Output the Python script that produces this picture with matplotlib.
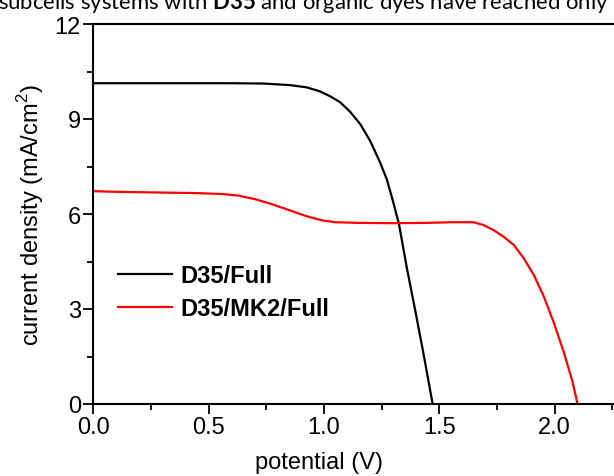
import matplotlib
matplotlib.use("Agg")
import matplotlib.pyplot as plt
from matplotlib.ticker import MultipleLocator

plt.rcParams['font.family'] = ['Liberation Sans', 'DejaVu Sans']
plt.rcParams['mathtext.fontset'] = 'custom'
plt.rcParams['mathtext.rm'] = 'Liberation Sans'
plt.rcParams['mathtext.bf'] = 'Lato:bold'

# D35/Full
v_black = [0.0, 0.2, 0.4, 0.593, 0.737, 0.853, 0.925, 0.983, 1.026, 1.070, 1.113, 1.157,
           1.200, 1.243, 1.272, 1.297, 1.325, 1.358, 1.395, 1.431, 1.471]
j_black = [10.13, 10.13, 10.13, 10.13, 10.12, 10.07, 10.00, 9.87, 9.72, 9.53, 9.23, 8.84,
           8.31, 7.63, 7.10, 6.46, 5.68, 4.34, 2.97, 1.60, 0.0]

# D35/MK2/Full
v_red = [0.0, 0.1, 0.275, 0.45, 0.56, 0.63, 0.70, 0.77, 0.85, 0.92, 0.99, 1.05, 1.15, 1.30,
         1.45, 1.55, 1.648, 1.692, 1.735, 1.779, 1.823, 1.866, 1.910, 1.953, 1.997, 2.041,
         2.077, 2.099]
j_red = [6.72, 6.70, 6.68, 6.66, 6.63, 6.58, 6.47, 6.32, 6.12, 5.94, 5.80, 5.74, 5.72, 5.71,
         5.72, 5.74, 5.74, 5.65, 5.49, 5.28, 5.02, 4.60, 4.07, 3.39, 2.55, 1.60,
         0.71, 0.0]

labels = ["D35/Full", "D35/MK2/Full"]
x_ticks = [0.0, 0.5, 1.0, 1.5, 2.0]
y_ticks = [0, 3, 6, 9, 12]

W, H = 614, 477
fig = plt.figure(figsize=(W / 100, H / 100), dpi=100)
ax_w = 2.3 * 230.7
ax = fig.add_axes([93.3 / W, (H - 405) / H, ax_w / W, 380 / H])

ax.plot(v_black, j_black, color='black', lw=1.6, label=labels[0])
ax.plot(v_red, j_red, color='red', lw=1.6, label=labels[1])

ax.set_xlim(0, 2.3)
ax.set_ylim(0, 12)
ax.set_xticks(x_ticks)
ax.set_xticklabels([f"{t:.1f}" for t in x_ticks])
ax.set_yticks(y_ticks)
ax.xaxis.set_minor_locator(MultipleLocator(0.25))
ax.yaxis.set_minor_locator(MultipleLocator(1.5))
ax.tick_params(which='major', direction='out', length=7, width=1.3, labelsize=17, pad=2)
ax.tick_params(which='minor', direction='out', length=4, width=1.3)
for s in ax.spines.values():
    s.set_linewidth(1.5)

ax.set_xlabel("potential (V)", fontsize=17, labelpad=11)
ax.xaxis.set_label_coords((319 - 93.3) / ax_w, -0.125)
ax.xaxis.label.set_va('top')
ax.set_ylabel("current density (mA/cm$^2$)", fontsize=17, labelpad=6)

leg = ax.legend(loc='lower left', bbox_to_anchor=(0.006, 0.164), frameon=False,
                prop={'weight': 'bold', 'size': 17}, handlelength=2.3,
                handletextpad=0.34, labelspacing=0.43)

fig.text(-0.003, 1 - 9 / H, "subcells systems with $\\mathbf{D35}$ and organic dyes have reached only",
         fontsize=15.9, va='baseline', ha='left', family='Lato')

fig.savefig("out.png", dpi=100)
